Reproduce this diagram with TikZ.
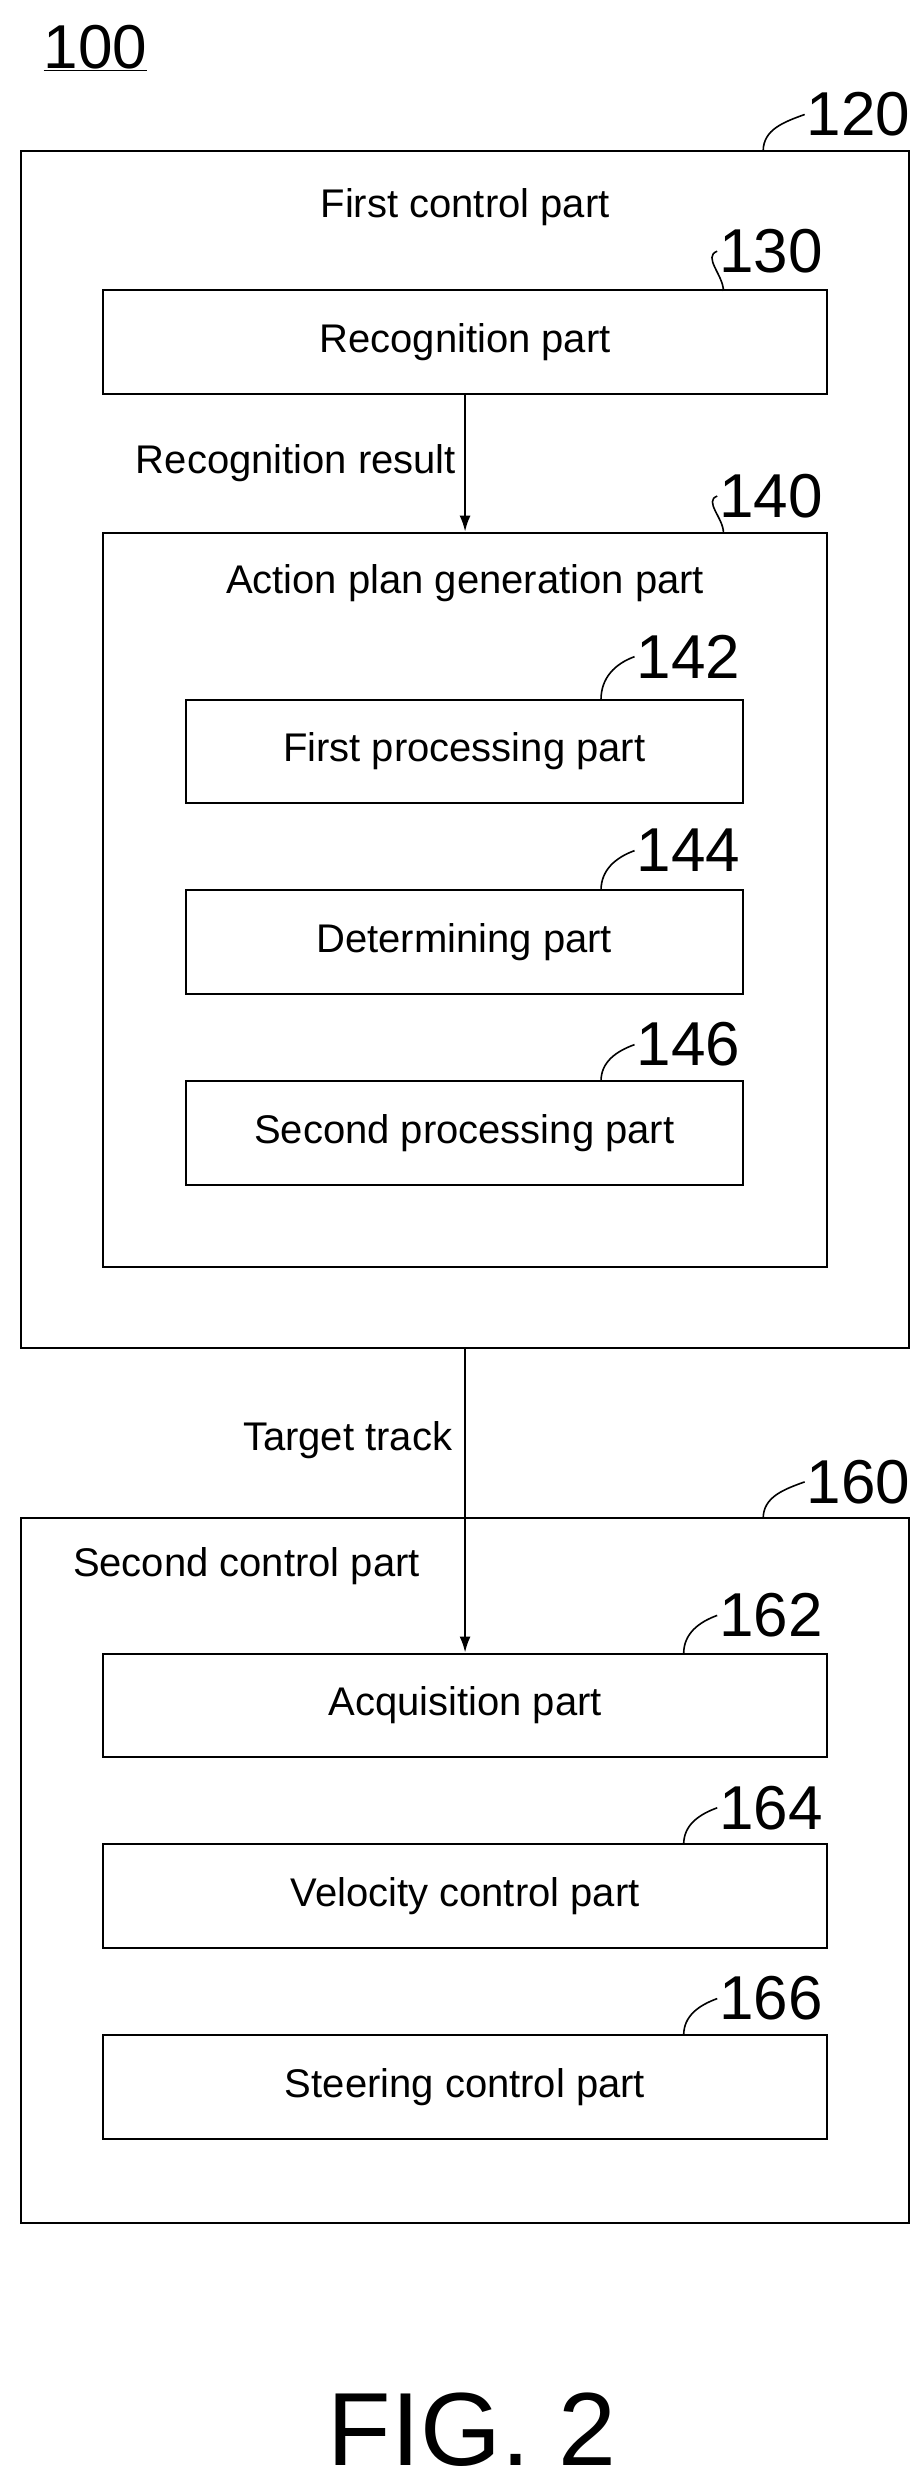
\documentclass[tikz,border=0pt]{standalone}
\usepackage{fontspec}
\setmainfont{Liberation Sans}
\usetikzlibrary{arrows.meta}
\begin{document}
\begin{tikzpicture}[x=1.59pt, y=-1.59pt,
    every node/.style={font=\fontsize{40}{44}\selectfont, inner sep=0pt},
    part/.style={draw, line width=2pt, minimum width=723.5pt, minimum height=103.4pt},
    sub/.style={draw, line width=2pt, minimum width=556.5pt, minimum height=103.4pt},
    num/.style={font=\fontsize{62}{66}\selectfont},
    lead/.style={line width=1.6pt}]
    \useasboundingbox (0,0) rectangle (580,1553.5);

    \node[num] (N100) at (60,30) {\underline{100}};

    % first control part
    \node[draw, line width=2pt, minimum width=888.8pt, minimum height=1197.3pt] (A) at (292.5,471.5) {};
    \node (At) at (292.5,130) {First control part};
    \node[part] (B) at (292.5,215) {Recognition part};
    \node[draw, line width=2pt, minimum width=723.5pt, minimum height=734.6pt] (C) at (292.5,566) {};
    \node (Ct) at (292.5,367) {Action plan generation part};
    \node[sub] (D) at (292,472.5) {First processing part};
    \node[sub] (E) at (292,592.5) {Determining part};
    \node[sub] (F) at (292,712.5) {Second processing part};

    % second control part
    \node[draw, line width=2pt, minimum width=888.8pt, minimum height=704.4pt] (G) at (292.5,1176.5) {};
    \node (Gt) at (155,985) {Second control part};
    \node[part] (H) at (292.5,1072.5) {Acquisition part};
    \node[part] (I) at (292.5,1192.5) {Velocity control part};
    \node[part] (J) at (292.5,1312.5) {Steering control part};

    \node[font=\fontsize{104}{108}\selectfont] (fig) at (297,1528) {FIG. 2};

    % arrows
    \draw[line width=2pt, -{Latex[length=16pt, width=11pt]}] (B.south) -- (C.north) node[midway, left=8pt] {Recognition result};
    \draw[line width=2pt, -{Latex[length=16pt, width=11pt]}] (A.south) -- (H.north) node[pos=0.3, left=12pt] {Target track};

    % reference numbers
    \node[num] (n120) at (540,72) {120};
    \node[num] (n130) at (485,158) {130};
    \node[num] (n140) at (485,312) {140};
    \node[num] (n142) at (433,413) {142};
    \node[num] (n144) at (433,535) {144};
    \node[num] (n146) at (433,657) {146};
    \node[num] (n160) at (540,932) {160};
    \node[num] (n162) at (485,1016) {162};
    \node[num] (n164) at (485,1137) {164};
    \node[num] (n166) at (485,1257) {166};

    \coordinate (l120) at (480,95);
    \coordinate (l130) at (455,183);
    \coordinate (l140) at (455,335);
    \coordinate (l142) at (378,440);
    \coordinate (l144) at (378,560);
    \coordinate (l146) at (378,680);
    \coordinate (l160) at (480,955);
    \coordinate (l162) at (430,1040);
    \coordinate (l164) at (430,1160);
    \coordinate (l166) at (430,1280);

    \foreach \n in {120,130,140,142,144,146,160,162,164,166}
        \draw[lead] (l\n) to[out=90, in=200] ([xshift=-2pt]n\n.west);
\end{tikzpicture}
\end{document}
